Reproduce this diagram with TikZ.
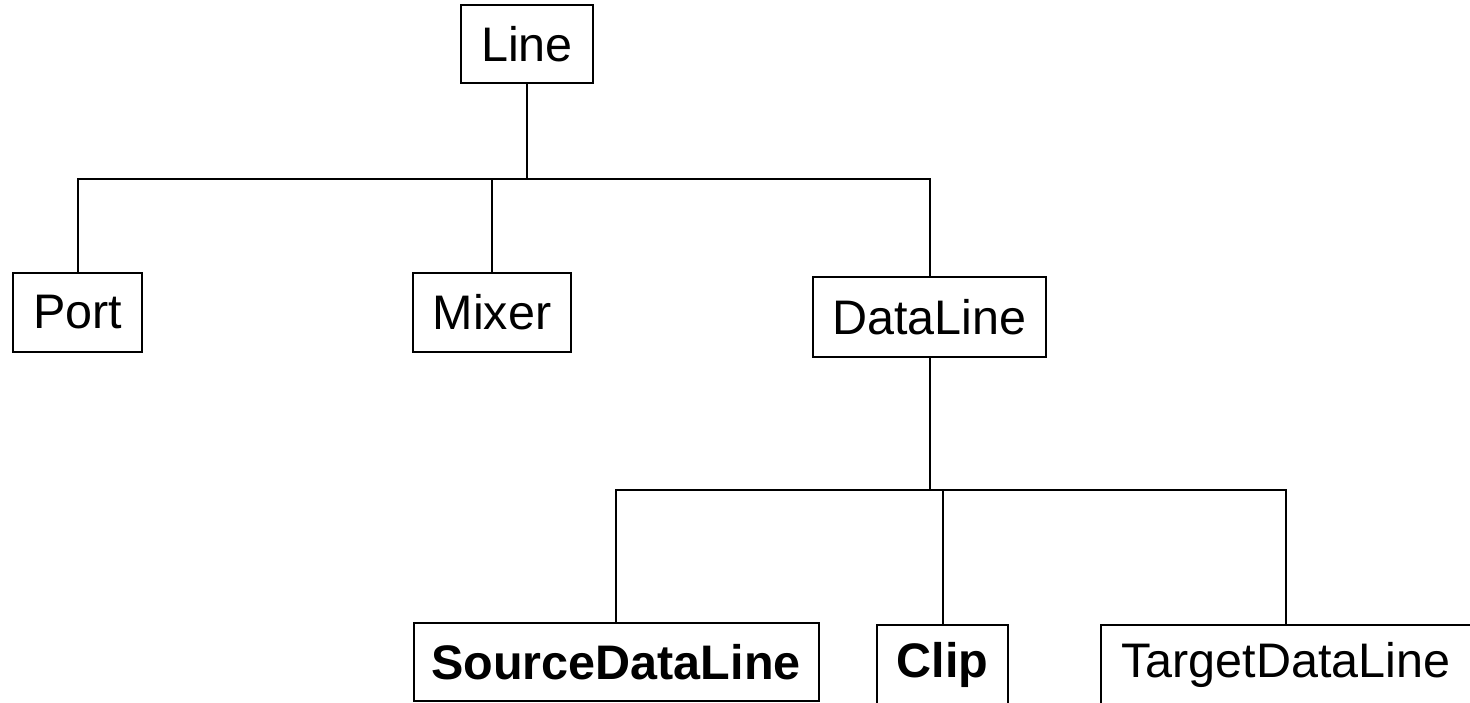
\documentclass[tikz,border=0pt]{standalone}
\usepackage{fontspec}
\setmainfont{Liberation Sans}
\begin{document}
\begin{tikzpicture}[x=1pt,y=-1pt,
  box/.style={draw=black,line width=2pt,inner sep=0pt,minimum height=79pt,
    font=\fontsize{48.5}{56}\selectfont},
  conn/.style={draw=black,line width=2pt}]
\clip (0,0) rectangle (1470,703);
\node[box,minimum width=132pt,minimum height=78pt] (line) at (527,44) {Line};
\node[box,minimum width=129pt] (port) at (77.5,312.5) {Port};
\node[box,minimum width=158pt] (mixer) at (492,312.5) {Mixer};
\node[box,minimum width=233pt,minimum height=80pt] (dataline) at (929.5,317) {DataLine};
\node[box,minimum width=405pt,minimum height=78pt] (source) at (616,662) {\bfseries SourceDataLine};
\node[box,minimum width=131pt] (clip) at (942.5,664.5) {\bfseries Clip};
\node[box,minimum width=370pt] (target) at (1286,664.5) {TargetDataLine};
\coordinate (j1) at (527,179);
\coordinate (j2) at (929.5,490);
\draw[conn] (line) -- (j1);
\draw[conn] (j1) -| (port);
\draw[conn] (j1) -| (mixer);
\draw[conn] (j1) -| (dataline);
\draw[conn] (dataline) -- (j2);
\draw[conn] (j2) -| (source);
\draw[conn] (j2) -| (clip);
\draw[conn] (j2) -| (target);
\end{tikzpicture}
\end{document}
